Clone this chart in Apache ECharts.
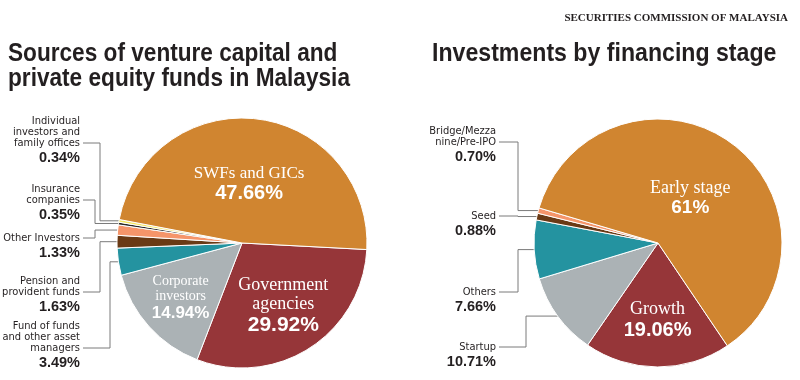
<!DOCTYPE html>
<html>
<head>
<meta charset="utf-8">
<script src="https://cdn.jsdelivr.net/npm/echarts@6/dist/echarts.min.js"></script>
<style>
  html, body { margin: 0; padding: 0; background: #fff; }
  #chart { width: 800px; height: 380px; }
</style>
</head>
<body>
<div id="chart"></div>
<script>
// Sources of VC / PE funds (clockwise from 3 o'clock)
const sourceNames = [
  "Government\nagencies",
  "Corporate\ninvestors",
  "Fund of funds\nand other asset\nmanagers",
  "Pension and\nprovident funds",
  "Other Investors",
  "Insurance\ncompanies",
  "Individual\ninvestors and\nfamily offices",
  "SWFs and GICs",
];
const sourceValues = [29.92, 14.94, 3.49, 1.63, 1.33, 0.35, 0.34, 47.66];

// Investments by financing stage
const stageNames = ["Growth", "Startup", "Others", "Seed", "Bridge/Mezza\nnine/Pre-IPO", "Early stage"];
const stageValues = [19.06, 10.71, 7.66, 0.88, 0.7, 61];

// palette
const sourceColors = ["#963639", "#abb2b5", "#2493a0", "#6a3a15", "#f5956a", "#2a2a2a", "#f3e65e", "#d08530"];
const stageColors = ["#963639", "#abb2b5", "#2493a0", "#6a3a15", "#f5956a", "#d08530"];

const textColor = "#231f20";
const nameFont = "'DejaVu Sans Condensed', Roboto, sans-serif";
const pctFont = "'Liberation Sans', Arial, sans-serif";
const titleFont = "'Liberation Sans', Arial, sans-serif";

// labels drawn inside the slices: radius factor and font sizes
const innerLabels = {
  "SWFs and GICs": { k: 0.45, n: 17, p: 20 },
  "Government\nagencies": { k: 0.58, n: 18, p: 21 },
  "Corporate\ninvestors": { k: 0.63, n: 14, p: 17 },
  "Early stage": { k: 0.42, n: 18, p: 19 },
  "Growth": { k: 0.6, n: 18, p: 20 },
};

// labels drawn outside: y of the leader line and x of its elbow
const outerLabels = {
  "Individual\ninvestors and\nfamily offices": { lineY: 143, elbowX: 100 },
  "Insurance\ncompanies": { lineY: 200, elbowX: 95 },
  "Other Investors": { lineY: 238, elbowX: 95 },
  "Pension and\nprovident funds": { lineY: 292, elbowX: 100 },
  "Fund of funds\nand other asset\nmanagers": { lineY: 348, elbowX: 110 },
  "Bridge/Mezza\nnine/Pre-IPO": { lineY: 142, elbowX: 518 },
  "Seed": { lineY: 216, elbowX: 518 },
  "Others": { lineY: 292, elbowX: 518 },
  "Startup": { lineY: 347, elbowX: 526 },
};

const pies = [
  { names: sourceNames, values: sourceValues, colors: sourceColors, center: [242, 243], radius: 125, startAngle: -3, labelRight: 80 },
  { names: stageNames, values: stageValues, colors: stageColors, center: [658, 243], radius: 124, startAngle: -56, labelRight: 496 },
];

const NAME_LH = 11;

function pct(v) {
  return (Number.isInteger(v) ? String(v) : v.toFixed(2)) + "%";
}

function labelText(params) {
  const lines = params.name.split("\n").map((l) => "{n|" + l + "}");
  return lines.join("\n") + "\n{p|" + pct(params.value) + "}";
}

function buildData(pie) {
  return pie.names.map((name, i) => {
    const item = {
      name: name,
      value: pie.values[i],
      itemStyle: { color: pie.colors[i] },
    };
    const inner = innerLabels[name];
    if (inner) {
      item.label = {
        position: "inside",
        color: "#fff",
        rich: {
          n: { fontFamily: "'Liberation Serif', serif", fontSize: inner.n, lineHeight: inner.n + 1, color: "#fff" },
          p: { fontFamily: pctFont, fontWeight: "bold", fontSize: inner.p, lineHeight: inner.p + 2, color: "#fff" },
        },
      };
      item.labelLine = { show: false };
    }
    return item;
  });
}

// condensed-looking titles: regular bold font squeezed horizontally
function titleText(text, x, y, squeeze) {
  return {
    type: "text",
    x: x,
    y: y,
    scaleX: squeeze,
    style: {
      text: text,
      fontFamily: titleFont,
      fontWeight: "bold",
      fontSize: 25,
      lineHeight: 25,
      fill: textColor,
      verticalAlign: "top",
    },
  };
}

const chart = echarts.init(document.getElementById("chart"), null, { renderer: "canvas" });

const option = {
  backgroundColor: "#fff",
  animation: false,
  title: [
    {
      text: "SECURITIES COMMISSION OF MALAYSIA",
      right: 7,
      top: 8,
      textStyle: { fontFamily: "'Liberation Serif', serif", fontSize: 11, fontWeight: "bold", color: textColor },
    },
  ],
  graphic: [
    titleText("Sources of venture capital and\nprivate equity funds in Malaysia", 8, 42, 0.905),
    titleText("Investments by financing stage", 432, 42, 0.925),
  ],
  series: pies.map((pie) => ({
    type: "pie",
    center: pie.center,
    radius: pie.radius,
    startAngle: pie.startAngle,
    clockwise: true,
    avoidLabelOverlap: false,
    data: buildData(pie),
    itemStyle: { borderColor: "#fff", borderWidth: 1 },
    label: {
      position: "outside",
      formatter: labelText,
      color: textColor,
      rich: {
        n: { fontFamily: nameFont, fontSize: 11, lineHeight: NAME_LH, color: textColor },
        p: { fontFamily: pctFont, fontWeight: "bold", fontSize: 14.5, lineHeight: 18, color: textColor },
      },
    },
    labelLine: {
      show: true,
      length: 10,
      length2: 10,
      lineStyle: { color: "#7a7a7a", width: 1 },
    },
    labelLayout: (params) => {
      const name = pie.names[params.dataIndex];
      const inner = innerLabels[name];
      const r = params.labelRect;
      if (inner) {
        const cx = r.x + r.width / 2;
        const cy = r.y + r.height / 2;
        const s = inner.k / 0.5;
        return {
          x: pie.center[0] + (cx - pie.center[0]) * s,
          y: pie.center[1] + (cy - pie.center[1]) * s,
          align: "center",
          verticalAlign: "middle",
        };
      }
      const outer = outerLabels[name];
      const nLines = name.split("\n").length;
      const top = outer.lineY - (nLines - 0.5) * NAME_LH;
      const start = params.labelLinePoints ? params.labelLinePoints[0] : pie.center;
      return {
        x: pie.labelRight,
        y: top,
        align: "right",
        verticalAlign: "top",
        labelLinePoints: [
          [start[0], start[1]],
          [outer.elbowX, start[1]],
          [outer.elbowX, outer.lineY],
          [pie.labelRight + 3, outer.lineY],
        ],
      };
    },
  })),
};

chart.setOption(option);
</script>
</body>
</html>
